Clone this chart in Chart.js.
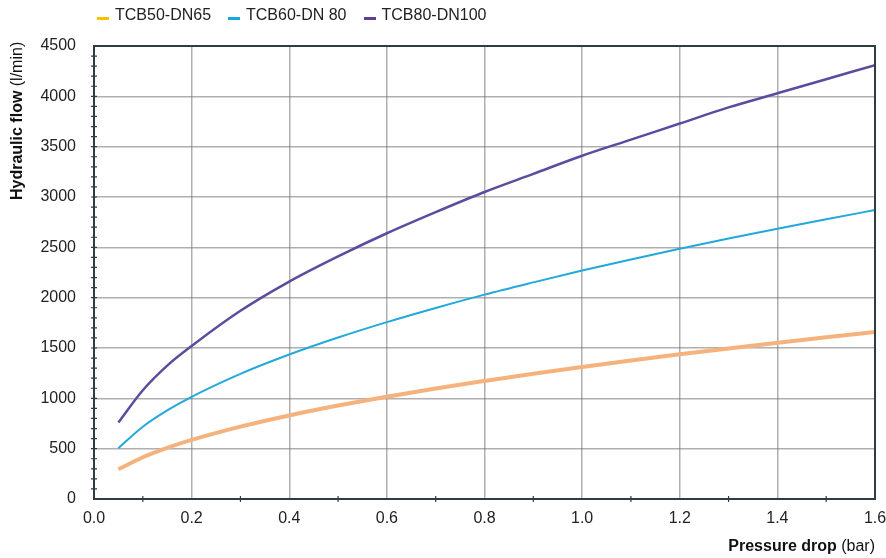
<!DOCTYPE html>
<html>
<head>
<meta charset="utf-8">
<script src="https://cdn.jsdelivr.net/npm/chart.js@4/dist/chart.umd.min.js"></script>
<style>
  html, body { margin: 0; padding: 0; background: #fff; }
  #wrap { position: relative; width: 886px; height: 558px; }
  #legenda { position: absolute; left: 97px; top: 6px; display: flex; font: 16px "Liberation Sans", Arial, sans-serif; color: #222; }
  #legenda .item { display: flex; align-items: center; margin-right: 17px; }
  #legenda .mk { width: 12px; height: 3px; margin: 6px 6px 0 0; }
</style>
</head>
<body>
<div id="wrap">
  <div id="legenda"></div>
  <canvas id="grafico" width="886" height="558"></canvas>
</div>
<script>
// perda de carga (bar) x vazão (l/min)
const PRESSAO = [0.05, 0.1, 0.15, 0.2, 0.3, 0.4, 0.5, 0.6, 0.7, 0.8, 0.9, 1.0, 1.1, 1.2, 1.3, 1.4, 1.5, 1.6];
const TCB50 = [295, 415, 508, 587, 719, 830, 928, 1016, 1098, 1173, 1245, 1312, 1376, 1437, 1496, 1552, 1607, 1660];
const TCB60 = [505, 718, 880, 1015, 1243, 1435, 1604, 1757, 1898, 2030, 2152, 2270, 2380, 2485, 2587, 2685, 2779, 2870];
const TCB80 = [760, 1080, 1325, 1520, 1870, 2160, 2410, 2640, 2850, 3050, 3230, 3410, 3570, 3730, 3890, 4030, 4170, 4310];
const NOMES = ["TCB50-DN65", "TCB60-DN 80", "TCB80-DN100"];
const COR_LINHA = ["#f5b27c", "#22a9dc", "#5e4b9f"];
const COR_LEGENDA = ["#f6c200", "#1aa7e0", "#5e3f96"];
const FONTE = '"Liberation Sans", Arial, sans-serif';

document.getElementById("legenda").innerHTML = NOMES
  .map((n, i) => `<div class="item"><div class="mk" style="background:${COR_LEGENDA[i]}"></div>${n}</div>`)
  .join("");

const serie = (dados, i, larg) => ({
  label: NOMES[i],
  data: PRESSAO.map((p, k) => ({ x: p, y: dados[k] })),
  borderColor: COR_LINHA[i], borderWidth: larg, pointRadius: 0,
  cubicInterpolationMode: "monotone", fill: false,
});

// moldura, marcas menores e títulos dos eixos
const extras = {
  id: "extras",
  afterDatasetsDraw(chart) {
    const { ctx, chartArea: a, scales: { x, y } } = chart;
    ctx.save();
    ctx.strokeStyle = "#2e3d42";
    ctx.lineWidth = 2;
    ctx.strokeRect(a.left, a.top, a.right - a.left, a.bottom - a.top);
    ctx.lineWidth = 1.2;
    ctx.beginPath();
    for (let v = 100; v < 4500; v += 100) {
      const py = y.getPixelForValue(v);
      ctx.moveTo(a.left - 3, py); ctx.lineTo(a.left + 3, py);
    }
    for (let v = 0.1; v < 1.6; v += 0.2) {
      const px = x.getPixelForValue(v);
      ctx.moveTo(px, a.bottom - 3); ctx.lineTo(px, a.bottom + 3);
    }
    ctx.stroke();
    ctx.fillStyle = "#111";
    ctx.textBaseline = "alphabetic";
    // eixo y
    ctx.translate(22, 200);
    ctx.rotate(-Math.PI / 2);
    ctx.font = "bold 16px " + FONTE;
    ctx.textAlign = "left";
    ctx.fillText("Hydraulic flow", 0, 0);
    const w = ctx.measureText("Hydraulic flow ").width;
    ctx.font = "16px " + FONTE;
    ctx.fillText("(l/min)", w, 0);
    ctx.setTransform(1, 0, 0, 1, 0, 0);
    // eixo x
    ctx.font = "16px " + FONTE;
    const wb = ctx.measureText("(bar)").width;
    ctx.textAlign = "right";
    ctx.fillText("(bar)", a.right, 551);
    ctx.font = "bold 16px " + FONTE;
    ctx.fillText("Pressure drop ", a.right - wb, 551);
    ctx.restore();
  },
};

new Chart(document.getElementById("grafico"), {
  type: "line",
  data: { datasets: [serie(TCB50, 0, 4), serie(TCB60, 1, 2), serie(TCB80, 2, 2.5)] },
  options: {
    responsive: false, animation: false,
    layout: { padding: { top: 46, right: 11, left: 0, bottom: 0 } },
    plugins: { legend: { display: false }, tooltip: { enabled: false } },
    scales: {
      x: {
        type: "linear", min: 0, max: 1.6,
        ticks: { stepSize: 0.2, padding: 10, color: "#222", font: { family: FONTE, size: 16 },
          callback: (v) => v.toFixed(1) },
        grid: { color: "rgba(110,110,110,0.55)", lineWidth: 1.5, drawTicks: false },
        border: { display: false },
        afterFit: (s) => { s.height = 59; s.paddingLeft = 0; s.paddingRight = 0; },
      },
      y: {
        min: 0, max: 4500,
        ticks: { stepSize: 500, padding: 18, color: "#222", font: { family: FONTE, size: 16 },
          callback: (v) => String(v) },
        grid: { color: "rgba(110,110,110,0.55)", lineWidth: 1.5, drawTicks: false },
        border: { display: false },
        afterFit: (s) => { s.width = 94; s.paddingTop = 0; s.paddingBottom = 0; },
      },
    },
  },
  plugins: [extras],
});
</script>
</body>
</html>
